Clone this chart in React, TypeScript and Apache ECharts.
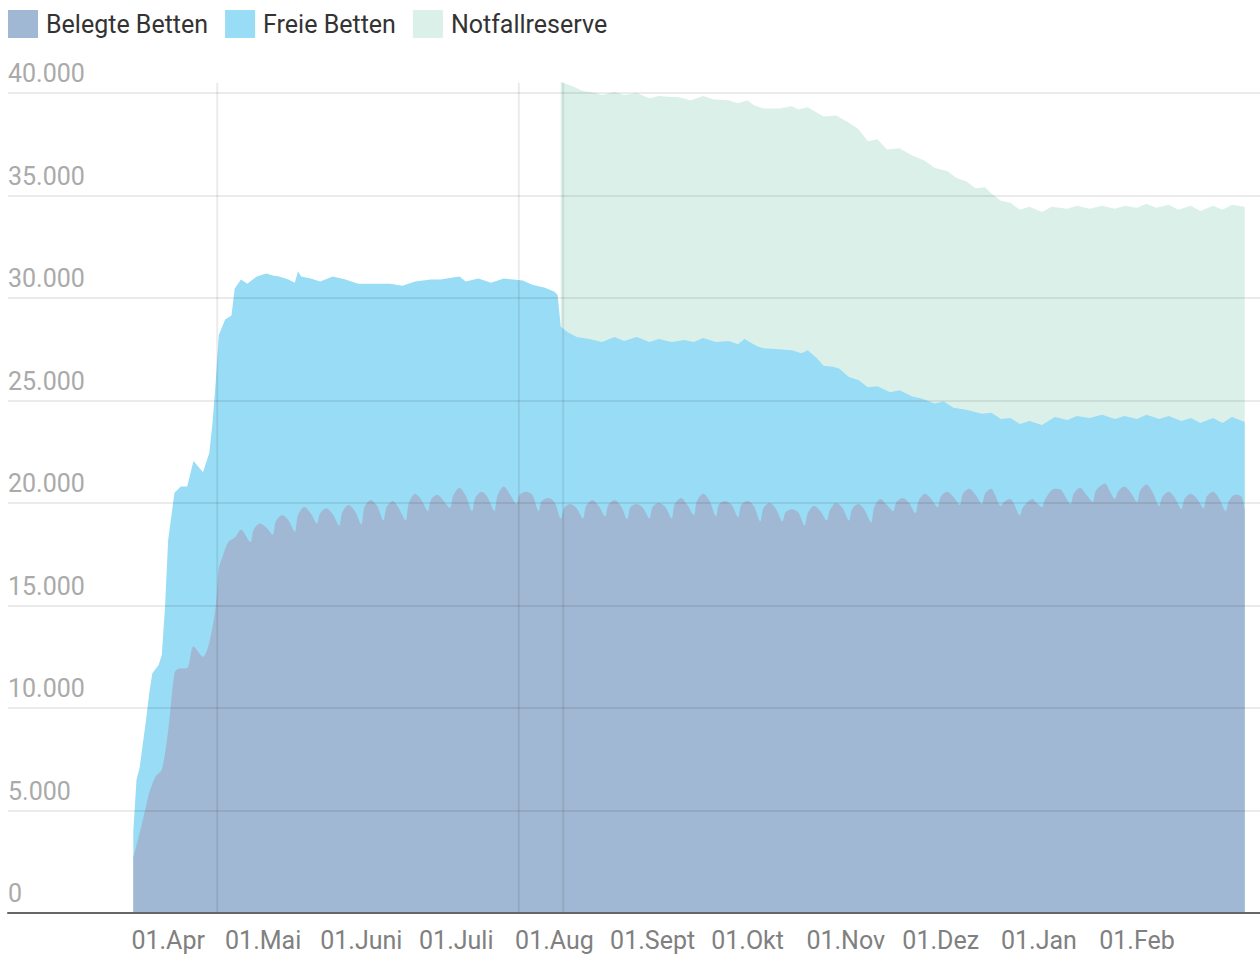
import React, { useEffect, useRef } from "react";
import * as echarts from "echarts";

// Belegte Intensivbetten (occupied ICU beds)
const belegteBetten: [string, number][] = [
  ["2020-03-21", 2700], ["2020-03-23", 3900], ["2020-03-25", 5200], ["2020-03-26", 5850],
  ["2020-03-28", 6650], ["2020-03-30", 7000], ["2020-04-01", 8900], ["2020-04-03", 11700],
  ["2020-04-04", 11900], ["2020-04-07", 11950], ["2020-04-09", 13000], ["2020-04-12", 12500],
  ["2020-04-14", 13200], ["2020-04-16", 14900], ["2020-04-17", 16800], ["2020-04-18", 17300],
  ["2020-04-20", 18100], ["2020-04-22", 18300], ["2020-04-24", 18700],
  ["2020-04-27", 18100], ["2020-04-28", 18700], ["2020-04-30", 19000], ["2020-05-02", 18800],
  ["2020-05-04", 18450], ["2020-05-05", 19100], ["2020-05-07", 19400], ["2020-05-09", 19150],
  ["2020-05-11", 18600], ["2020-05-12", 19400], ["2020-05-14", 19800], ["2020-05-16", 19500],
  ["2020-05-18", 19000], ["2020-05-19", 19500], ["2020-05-21", 19750], ["2020-05-23", 19450],
  ["2020-05-25", 18900], ["2020-05-26", 19550], ["2020-05-28", 19900], ["2020-05-30", 19600],
  ["2020-06-01", 18950], ["2020-06-02", 19800], ["2020-06-04", 20150], ["2020-06-06", 19850],
  ["2020-06-08", 19150], ["2020-06-09", 19800], ["2020-06-11", 20100], ["2020-06-13", 19700],
  ["2020-06-15", 19150], ["2020-06-16", 20000], ["2020-06-18", 20450], ["2020-06-20", 20150],
  ["2020-06-22", 19600], ["2020-06-23", 20150], ["2020-06-25", 20400], ["2020-06-27", 20100],
  ["2020-06-29", 19750], ["2020-06-30", 20350], ["2020-07-02", 20750], ["2020-07-04", 20350],
  ["2020-07-06", 19600], ["2020-07-07", 20250], ["2020-07-09", 20550], ["2020-07-11", 20250],
  ["2020-07-13", 19600], ["2020-07-14", 20350], ["2020-07-16", 20800], ["2020-07-18", 20400],
  ["2020-07-20", 19950], ["2020-07-21", 20400], ["2020-07-23", 20550], ["2020-07-25", 20400],
  ["2020-07-27", 19600], ["2020-07-28", 20100], ["2020-07-30", 20250], ["2020-08-01", 20050],
  ["2020-08-03", 19250], ["2020-08-04", 19750], ["2020-08-06", 19950], ["2020-08-08", 19750],
  ["2020-08-10", 19250], ["2020-08-11", 19850], ["2020-08-13", 20150], ["2020-08-15", 19850],
  ["2020-08-17", 19350], ["2020-08-18", 19900], ["2020-08-20", 20150], ["2020-08-22", 19850],
  ["2020-08-24", 19200], ["2020-08-25", 19800], ["2020-08-27", 19950], ["2020-08-29", 19750],
  ["2020-08-31", 19250], ["2020-09-01", 19800], ["2020-09-03", 20000], ["2020-09-05", 19800],
  ["2020-09-07", 19250], ["2020-09-08", 19950], ["2020-09-10", 20250], ["2020-09-12", 19900],
  ["2020-09-14", 19400], ["2020-09-15", 20100], ["2020-09-17", 20450], ["2020-09-19", 20100],
  ["2020-09-21", 19350], ["2020-09-22", 19950], ["2020-09-24", 20100], ["2020-09-26", 19900],
  ["2020-09-28", 19300], ["2020-09-29", 19900], ["2020-10-01", 20100], ["2020-10-03", 19850],
  ["2020-10-05", 19100], ["2020-10-06", 19750], ["2020-10-08", 20000], ["2020-10-10", 19700],
  ["2020-10-12", 19100], ["2020-10-13", 19550], ["2020-10-15", 19700], ["2020-10-17", 19550],
  ["2020-10-19", 18900], ["2020-10-20", 19500], ["2020-10-22", 19850], ["2020-10-24", 19600],
  ["2020-10-26", 19150], ["2020-10-27", 19650], ["2020-10-29", 20000], ["2020-10-31", 19750],
  ["2020-11-02", 19150], ["2020-11-03", 19700], ["2020-11-05", 19950], ["2020-11-07", 19650],
  ["2020-11-09", 19050], ["2020-11-10", 19800], ["2020-11-12", 20200], ["2020-11-14", 19900],
  ["2020-11-16", 19600], ["2020-11-17", 20050], ["2020-11-19", 20250], ["2020-11-21", 20000],
  ["2020-11-23", 19500], ["2020-11-24", 20100], ["2020-11-26", 20450], ["2020-11-28", 20200],
  ["2020-11-30", 19800], ["2020-12-01", 20300], ["2020-12-03", 20550], ["2020-12-05", 20300],
  ["2020-12-07", 19900], ["2020-12-08", 20450], ["2020-12-10", 20700], ["2020-12-12", 20400],
  ["2020-12-14", 19950], ["2020-12-15", 20450], ["2020-12-17", 20700], ["2020-12-18", 20450],
  ["2020-12-20", 19850], ["2020-12-21", 20050], ["2020-12-23", 20200], ["2020-12-24", 20000],
  ["2020-12-26", 19400], ["2020-12-27", 19800], ["2020-12-30", 20200], ["2020-12-31", 20050],
  ["2021-01-02", 19800], ["2021-01-03", 20200], ["2021-01-06", 20700], ["2021-01-08", 20650],
  ["2021-01-09", 20400],
  ["2021-01-11", 19950], ["2021-01-12", 20450], ["2021-01-14", 20750], ["2021-01-16", 20400],
  ["2021-01-18", 20050], ["2021-01-19", 20600], ["2021-01-22", 20950], ["2021-01-23", 20700],
  ["2021-01-25", 20200], ["2021-01-26", 20550], ["2021-01-28", 20800], ["2021-01-30", 20500],
  ["2021-02-01", 20050], ["2021-02-02", 20600], ["2021-02-04", 20900], ["2021-02-06", 20500],
  ["2021-02-08", 19850], ["2021-02-09", 20300], ["2021-02-11", 20550], ["2021-02-13", 20250],
  ["2021-02-15", 19700], ["2021-02-16", 20200], ["2021-02-18", 20450], ["2021-02-20", 20200],
  ["2021-02-22", 19750], ["2021-02-23", 20300], ["2021-02-25", 20550], ["2021-02-27", 20200],
  ["2021-03-01", 19600], ["2021-03-02", 20100], ["2021-03-04", 20400], ["2021-03-06", 20300],
  ["2021-03-07", 19600],
];

// Betreibbare Intensivbetten gesamt (belegt + frei) – top edge of "Freie Betten"
const bettenGesamt: [string, number][] = [
  ["2020-03-21", 4000], ["2020-03-22", 6500], ["2020-03-23", 7100], ["2020-03-25", 9400],
  ["2020-03-26", 10700], ["2020-03-27", 11700], ["2020-03-29", 12100], ["2020-03-30", 12600],
  ["2020-03-31", 14900], ["2020-04-01", 18200], ["2020-04-03", 20500], ["2020-04-05", 20800],
  ["2020-04-07", 20800], ["2020-04-09", 22050], ["2020-04-12", 21500], ["2020-04-14", 22450],
  ["2020-04-15", 23900], ["2020-04-16", 25850], ["2020-04-17", 28200], ["2020-04-19", 28950],
  ["2020-04-21", 29150], ["2020-04-22", 30450], ["2020-04-24", 30900], ["2020-04-26", 30700],
  ["2020-04-29", 31050], ["2020-05-02", 31200], ["2020-05-04", 31100], ["2020-05-06", 31050],
  ["2020-05-09", 30900], ["2020-05-11", 30750], ["2020-05-12", 31300], ["2020-05-13", 31050],
  ["2020-05-16", 30950], ["2020-05-19", 30800], ["2020-05-23", 31050], ["2020-05-27", 30900],
  ["2020-05-31", 30700], ["2020-06-07", 30700], ["2020-06-10", 30700], ["2020-06-14", 30600],
  ["2020-06-18", 30800], ["2020-06-23", 30900], ["2020-06-26", 30900], ["2020-07-02", 31050],
  ["2020-07-04", 30800], ["2020-07-08", 30950], ["2020-07-12", 30750], ["2020-07-16", 30950],
  ["2020-07-19", 30900], ["2020-07-22", 30850], ["2020-07-25", 30650], ["2020-07-29", 30500],
  ["2020-08-01", 30300], ["2020-08-02", 30150], ["2020-08-03", 28600], ["2020-08-05", 28350],
  ["2020-08-08", 28100], ["2020-08-12", 28000], ["2020-08-16", 27850], ["2020-08-20", 28100],
  ["2020-08-23", 27900], ["2020-08-27", 28100], ["2020-08-31", 27850], ["2020-09-03", 28000],
  ["2020-09-07", 27850], ["2020-09-11", 27950], ["2020-09-14", 27850], ["2020-09-17", 28050],
  ["2020-09-21", 27850], ["2020-09-25", 27900], ["2020-09-28", 27750], ["2020-09-30", 28000],
  ["2020-10-04", 27650], ["2020-10-06", 27550], ["2020-10-11", 27500], ["2020-10-15", 27450],
  ["2020-10-18", 27300], ["2020-10-20", 27450], ["2020-10-23", 27050], ["2020-10-25", 26700],
  ["2020-10-28", 26650], ["2020-10-30", 26550], ["2020-11-02", 26150], ["2020-11-05", 26000],
  ["2020-11-08", 25650], ["2020-11-11", 25700], ["2020-11-15", 25400], ["2020-11-18", 25500],
  ["2020-11-22", 25200], ["2020-11-25", 25100], ["2020-11-29", 24850], ["2020-12-02", 24950],
  ["2020-12-05", 24650], ["2020-12-09", 24550], ["2020-12-14", 24350], ["2020-12-17", 24400],
  ["2020-12-20", 24100], ["2020-12-23", 24150], ["2020-12-26", 23850], ["2020-12-29", 24000],
  ["2021-01-02", 23800], ["2021-01-06", 24200], ["2021-01-10", 24050], ["2021-01-13", 24250],
  ["2021-01-17", 24150], ["2021-01-21", 24300], ["2021-01-25", 24100], ["2021-01-28", 24250],
  ["2021-02-01", 24100], ["2021-02-04", 24300], ["2021-02-08", 24100], ["2021-02-11", 24250],
  ["2021-02-15", 24000], ["2021-02-18", 24150], ["2021-02-21", 23900], ["2021-02-25", 24150],
  ["2021-02-28", 23900], ["2021-03-03", 24200], ["2021-03-07", 23950],
];

// Intensivbetten inkl. Notfallreserve – top edge of "Notfallreserve"
const bettenMitReserve: [string, number][] = [
  ["2020-08-03", 40550], ["2020-08-07", 40300], ["2020-08-10", 40100], ["2020-08-14", 40000],
  ["2020-08-16", 39900], ["2020-08-20", 40050], ["2020-08-23", 39900], ["2020-08-27", 40000],
  ["2020-08-31", 39750], ["2020-09-03", 39850], ["2020-09-07", 39800], ["2020-09-09", 39800],
  ["2020-09-13", 39650], ["2020-09-17", 39850], ["2020-09-20", 39700], ["2020-09-25", 39650],
  ["2020-09-28", 39500], ["2020-10-01", 39650], ["2020-10-03", 39400], ["2020-10-06", 39250],
  ["2020-10-11", 39250], ["2020-10-15", 39350], ["2020-10-17", 39200], ["2020-10-20", 39300],
  ["2020-10-25", 38850], ["2020-10-29", 38900], ["2020-11-02", 38550], ["2020-11-05", 38250],
  ["2020-11-08", 37650], ["2020-11-11", 37750], ["2020-11-14", 37250], ["2020-11-18", 37300],
  ["2020-11-22", 36950], ["2020-11-26", 36700], ["2020-11-29", 36350], ["2020-12-03", 36200],
  ["2020-12-06", 35850], ["2020-12-09", 35700], ["2020-12-12", 35350], ["2020-12-15", 35400],
  ["2020-12-17", 35100], ["2020-12-20", 34750], ["2020-12-23", 34650], ["2020-12-26", 34300],
  ["2020-12-29", 34450], ["2021-01-02", 34200], ["2021-01-05", 34450], ["2021-01-10", 34350],
  ["2021-01-13", 34500], ["2021-01-17", 34350], ["2021-01-21", 34500], ["2021-01-25", 34350],
  ["2021-01-28", 34500], ["2021-02-01", 34400], ["2021-02-04", 34600], ["2021-02-07", 34400],
  ["2021-02-11", 34550], ["2021-02-14", 34300], ["2021-02-18", 34500], ["2021-02-21", 34250],
  ["2021-02-25", 34500], ["2021-02-28", 34300], ["2021-03-03", 34550], ["2021-03-07", 34450],
];

// Reference lines (dates) and their vertical extent
const markerDates = ["2020-04-16 12:00", "2020-07-20 18:00", "2020-08-03 18:00"];
const markerRange = [0, 40500];

// X tick labels (first day of month)
const tickMonths = [
  "2020-04", "2020-05", "2020-06", "2020-07", "2020-08", "2020-09",
  "2020-10", "2020-11", "2020-12", "2021-01", "2021-02",
];
const tickLabels = [
  "01.Apr", "01.Mai", "01.Juni", "01.Juli", "01.Aug", "01.Sept",
  "01.Okt", "01.Nov", "01.Dez", "01.Jan", "01.Feb",
];

const legendNames = ["Belegte Betten", "Freie Betten", "Notfallreserve"];
const COLORS = { belegt: "#a0b8d3", frei: "#98dcf5", reserve: "#dcf0ea" };

function fmt(v: number): string {
  return String(v).replace(/\B(?=(\d{3})+(?!\d))/g, ".");
}

export default function App() {
  const ref = useRef<HTMLDivElement>(null);
  useEffect(() => {
    document.body.style.margin = "0";
    const chart = echarts.init(ref.current!, null, { renderer: "svg" });
    const font = "Roboto, 'Noto Sans', sans-serif";
    const areaSeries = (name: string, data: [string, number][], color: string, z: number, extra: any = {}) => ({
      name,
      type: "line",
      data,
      symbol: "none",
      showSymbol: false,
      clip: false,
      z,
      lineStyle: { width: 0, color },
      itemStyle: { color },
      areaStyle: { color, opacity: 1 },
      emphasis: { disabled: true },
      ...extra,
    });
    const markerSeries = markerDates.map((d, i) => ({
      name: "marker" + i,
      type: "line",
      data: markerRange.map((v) => [d, v]),
      symbol: "none",
      showSymbol: false,
      clip: false,
      silent: true,
      z: 4,
      lineStyle: { width: 2, color: "rgba(0,0,0,0.08)" },
      itemStyle: { color: "rgba(0,0,0,0.08)" },
      emphasis: { disabled: true },
    }));
    chart.setOption({
      animation: false,
      textStyle: { fontFamily: font },
      legend: {
        data: legendNames,
        left: 8,
        top: 10,
        padding: 0,
        icon: "rect",
        itemWidth: 30,
        itemHeight: 28,
        itemGap: 17,
        selectedMode: false,
        textStyle: { fontSize: 25, color: "#333", fontFamily: font, padding: [0, 0, 0, 3] },
      },
      grid: { left: 8, right: 0, top: 93, bottom: 41, containLabel: false },
      xAxis: {
        type: "time",
        min: +new Date(2020, 1, 10, 10),
        max: +new Date(2021, 2, 11, 20),
        splitNumber: 13,
        z: 5,
        axisLine: { show: true, lineStyle: { color: "#666", width: 2 } },
        axisTick: { show: false },
        splitLine: { show: false },
        axisLabel: {
          fontSize: 25,
          color: "#808080",
          fontFamily: font,
          margin: 15,
          hideOverlap: false,
          formatter: (val: number) => {
            const d = new Date(val);
            if (d.getDate() !== 1) return "";
            const key = `${d.getFullYear()}-${String(d.getMonth() + 1).padStart(2, "0")}`;
            const i = tickMonths.indexOf(key);
            return i >= 0 ? tickLabels[i] : "";
          },
        },
      },
      yAxis: {
        type: "value",
        min: 0,
        max: 40000,
        interval: 5000,
        z: 5,
        axisLine: { show: false },
        axisTick: { show: false },
        splitLine: { show: true, lineStyle: { color: "rgba(0,0,0,0.08)", width: 2 } },
        axisLabel: {
          inside: true,
          margin: 0,
          align: "left",
          verticalAlign: "bottom",
          padding: [0, 0, 7, 0],
          fontSize: 25,
          color: "#aaaaaa",
          fontFamily: font,
          formatter: (v: number) => fmt(v),
        },
      },
      series: [
        areaSeries("Notfallreserve", bettenMitReserve, COLORS.reserve, 1),
        areaSeries("Freie Betten", bettenGesamt, COLORS.frei, 2),
        areaSeries("Belegte Betten", belegteBetten, COLORS.belegt, 3, { smooth: 0.3 }),
        ...markerSeries,
      ],
    });
    return () => chart.dispose();
  }, []);
  return <div ref={ref} style={{ width: 1260, height: 954 }} />;
}
